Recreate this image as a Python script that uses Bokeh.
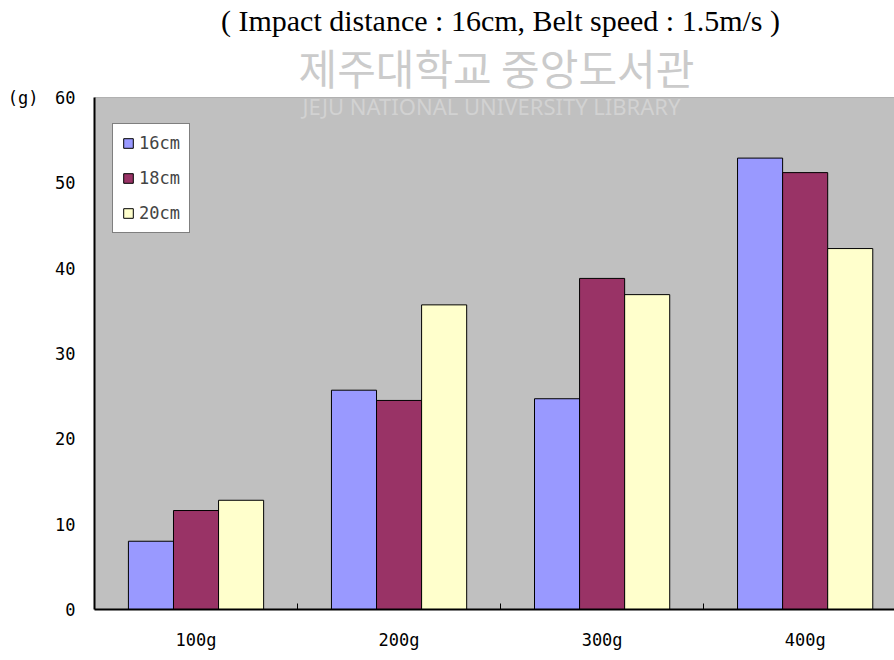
import numpy as np
from bokeh.plotting import figure
from bokeh.models import (Range1d, FixedTicker, Label, Legend, LegendItem,
                          ColumnDataSource, BoxAnnotation, LinearAxis)
from bokeh.embed import file_html
from bokeh.resources import INLINE

categories = ["100g", "200g", "300g", "400g"]
series_names = ["16cm", "18cm", "20cm"]
s16 = [8.0, 25.7, 24.7, 52.9]
s18 = [11.6, 24.5, 38.8, 51.2]
s20 = [12.8, 35.7, 36.9, 42.3]
y_ticks = [0, 10, 20, 30, 40, 50, 60]
y_unit = "(g)"
title_text = "( Impact distance : 16cm, Belt speed : 1.5m/s )"
watermark_ko = "제주대학교 중앙도서관"
watermark_en = "JEJU NATIONAL UNIVERSITY  LIBRARY"

colors = ["#9999FF", "#993366", "#FFFFCC"]
offsets = [-0.222, 0.0, 0.222]
bar_w = 0.222
tick_font = "DejaVu Sans Mono"

W, H = 894, 660
X_END = 3.94     # the original chart is cropped at the right edge
Y_TOP = 71.37    # frame extends to the top so titles share the frame

p = figure(width=W, height=H, output_backend="svg", toolbar_location=None,
           x_range=Range1d(0, X_END), y_range=Range1d(0, Y_TOP),
           min_border_left=94, min_border_right=0, min_border_top=0,
           min_border_bottom=51, background_fill_color="white",
           border_fill_color="white", outline_line_color=None)

# plot area background (0..60)
p.add_layout(BoxAnnotation(left=0, right=len(categories), bottom=0, top=60,
                           fill_color="#C0C0C0", fill_alpha=1,
                           line_color="#444444", line_width=1,
                           level="underlay"))

centers = np.arange(len(categories)) + 0.5
renderers = []
for vals, col, off in zip([s16, s18, s20], colors, offsets):
    src = ColumnDataSource(dict(x=centers + off, top=vals))
    r = p.vbar(x="x", top="top", bottom=0, width=bar_w, source=src,
               fill_color=col, line_color="black", line_width=1)
    renderers.append(r)

# x axis
xa = p.xaxis[0]
xa.ticker = FixedTicker(ticks=list(centers),
                        minor_ticks=list(np.arange(1, len(categories))))
xa.major_label_overrides = {float(c): lab for c, lab in zip(centers, categories)}
xa.major_tick_in = 0
xa.major_tick_out = 0
xa.minor_tick_in = 6
xa.minor_tick_out = 0
xa.minor_tick_line_color = "black"
xa.axis_line_color = "black"
xa.axis_line_width = 2
xa.major_label_standoff = 20
xa.major_label_text_font = tick_font
xa.major_label_text_font_size = "17px"
xa.major_label_text_color = "black"

# y axis
ya = p.yaxis[0]
ya.ticker = FixedTicker(ticks=y_ticks)
ya.bounds = (0, 60)
ya.major_tick_in = 0
ya.major_tick_out = 0
ya.minor_tick_in = 0
ya.minor_tick_out = 0
ya.axis_line_color = "black"
ya.axis_line_width = 2
ya.major_label_standoff = 19
ya.major_label_text_font = tick_font
ya.major_label_text_font_size = "17px"
ya.major_label_text_color = "black"

# unit label as an extra axis
ua = LinearAxis(ticker=FixedTicker(ticks=[60]),
                major_label_overrides={60: y_unit},
                axis_line_color=None, major_tick_in=0, major_tick_out=0,
                minor_tick_in=0, minor_tick_out=0, major_label_standoff=14,
                major_label_text_font=tick_font,
                major_label_text_font_size="17px",
                major_label_text_color="black")
p.add_layout(ua, "left")

p.xgrid.grid_line_color = None
p.ygrid.ticker = FixedTicker(ticks=y_ticks[1:-1])
p.ygrid.grid_line_color = "#222222"
p.ygrid.grid_line_width = 2

legend = Legend(items=[LegendItem(label=n, renderers=[r])
                       for n, r in zip(series_names, renderers)],
                location=(18, 376), glyph_width=12, glyph_height=12,
                label_text_font=tick_font, label_text_font_size="17px",
                label_height=20, spacing=15, padding=9, margin=0,
                label_standoff=5, border_line_color="black",
                border_line_width=1, background_fill_color="white",
                background_fill_alpha=1)
p.add_layout(legend)

# texts (screen units, relative to the frame's bottom-left)
p.add_layout(Label(x=406, y=589, x_units="screen", y_units="screen",
                   text=title_text,
                   text_font="Liberation Serif", text_font_size="30px",
                   text_align="center", text_baseline="alphabetic",
                   text_color="black"))
p.add_layout(Label(x=204, y=543, x_units="screen", y_units="screen",
                   text=watermark_ko, text_font="Noto Sans CJK KR",
                   text_font_size="42px", text_baseline="middle",
                   text_color="#cbcbcb"))
p.add_layout(Label(x=208, y=504, x_units="screen", y_units="screen",
                   text=watermark_en,
                   text_font="Noto Sans", text_font_size="22px",
                   text_baseline="middle", text_color="#d2d2d2"))

open("out.html", "w").write(file_html(p, INLINE))
